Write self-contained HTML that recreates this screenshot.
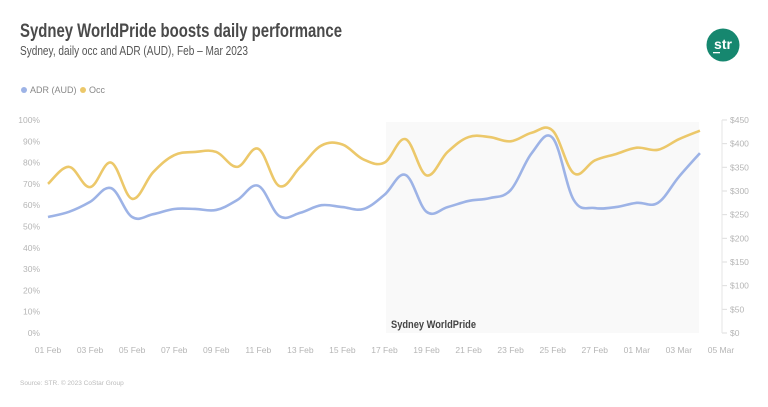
<!DOCTYPE html>
<html><head><meta charset="utf-8"><style>
body{margin:0;width:768px;height:402px;background:#fff;overflow:hidden;font-family:"Liberation Sans",sans-serif}
svg text{font-family:"Liberation Sans",sans-serif}
</style></head><body>
<svg id="s" width="768" height="402" viewBox="0 0 768 402" xmlns="http://www.w3.org/2000/svg">
<text x="20" y="37" font-size="19" font-weight="bold" fill="#4a4a4a" textLength="322" lengthAdjust="spacingAndGlyphs">Sydney WorldPride boosts daily performance</text>
<text x="20" y="55" font-size="12.5" fill="#555" textLength="228" lengthAdjust="spacingAndGlyphs">Sydney, daily occ and ADR (AUD), Feb – Mar 2023</text>
<circle cx="723" cy="45" r="16.5" fill="#16876f"/>
<text x="723" y="49" font-size="14" font-weight="bold" fill="#fff" text-anchor="middle">str</text>
<rect x="713" y="52" width="7" height="1.3" fill="#fff"/>
<circle cx="24" cy="90" r="3" fill="#9db3e6"/>
<text x="30" y="93" font-size="9" fill="#888">ADR (AUD)</text>
<circle cx="83" cy="90" r="3" fill="#ecc86a"/>
<text x="89" y="93" font-size="9" fill="#888">Occ</text>
<rect x="386" y="122" width="313" height="211" fill="#f9f9f9"/>
<text x="391" y="328" font-size="11" font-weight="bold" fill="#444" textLength="85" lengthAdjust="spacingAndGlyphs">Sydney WorldPride</text>
<g id="ax" font-size="8.5" fill="#b5b5b5"></g>
<path id="occ" fill="none" stroke="#ecc86a" stroke-width="2.6"/>
<path id="adr" fill="none" stroke="#9db3e6" stroke-width="2.6"/>
<text x="20" y="385" font-size="6.5" fill="#bbb">Source: STR. © 2023 CoStar Group</text>
</svg>
<script>
var occ=[70,78,68.5,80,63,75.5,83.5,85,85,85,78,86.5,69,78,88,88.5,81.5,80,91,74,85,92,92,90,94,95,75,81,84,87,86,91,95];
occ=[70,78,68.5,80,63,75.5,83.5,85,85,78,86.5,69,78,88,88.5,81.5,80,91,74,85,92,92,90,94,95,75,81,84,87,86,91,95];
var adr=[245,256,277,306,245,251,262,262,260,281,311,247,254,270,266,262,292,334,256,266,279,285,302,380,412,281,264,266,275,275,330,380];
function X(i){return 48+i*21.03}
function Yp(v){return 333-v*2.13}
function Ya(v){return 333-v/450*213}
function path(a,f){var p=a.map(function(v,i){return[X(i),f(v)]});var d="M"+p[0][0]+","+p[0][1];
for(var i=0;i<p.length-1;i++){var p0=p[i-1]||p[i],p1=p[i],p2=p[i+1],p3=p[i+2]||p2,t=0.18;
d+=" C"+(p1[0]+(p2[0]-p0[0])*t)+","+(p1[1]+(p2[1]-p0[1])*t)+" "+(p2[0]-(p3[0]-p1[0])*t)+","+(p2[1]-(p3[1]-p1[1])*t)+" "+p2[0]+","+p2[1];}return d;}
document.getElementById("occ").setAttribute("d",path(occ,Yp));
document.getElementById("adr").setAttribute("d",path(adr,Ya));
var g=document.getElementById("ax"),h="";
for(var k=0;k<=10;k++){var y=333-k*21.3;h+='<text x="40" y="'+(y+3)+'" text-anchor="end">'+(k*10)+'%</text>';}
for(var k=0;k<=9;k++){var y=333-k*23.67;h+='<line x1="722" x2="727" y1="'+y+'" y2="'+y+'" stroke="#ddd"/><text x="730" y="'+(y+3)+'">$'+(k*50)+'</text>';}
h+='<line x1="722" x2="722" y1="120" y2="333" stroke="#e5e5e5"/>';
var L=["01 Feb","03 Feb","05 Feb","07 Feb","09 Feb","11 Feb","13 Feb","15 Feb","17 Feb","19 Feb","21 Feb","23 Feb","25 Feb","27 Feb","01 Mar","03 Mar","05 Mar"];
L.forEach(function(t,i){h+='<text x="'+X(i*2)+'" y="353" text-anchor="middle">'+t+'</text>';});
g.innerHTML=h;
</script>
</body></html>
